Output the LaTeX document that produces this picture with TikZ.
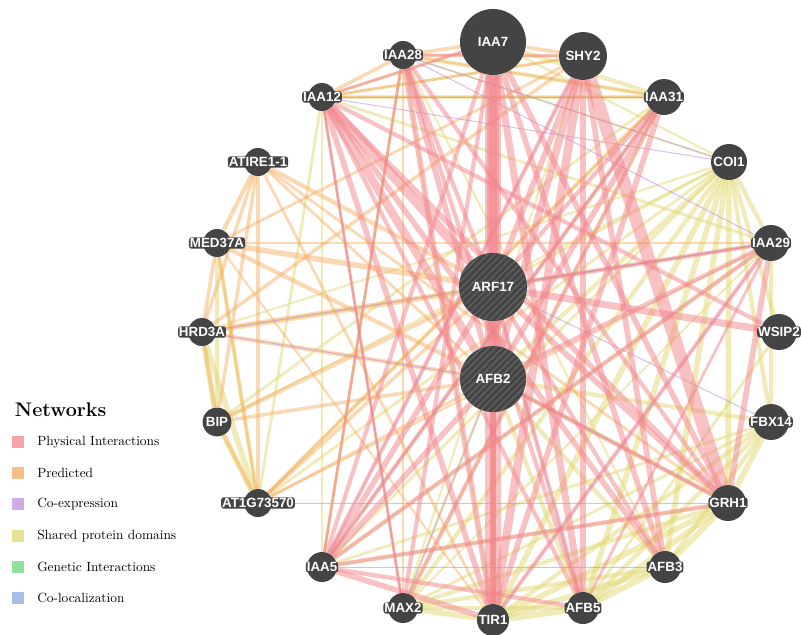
\documentclass[tikz,border=0pt]{standalone}
\usepackage{fontspec}
\newfontfamily\genefont{Liberation Sans}
\usetikzlibrary{backgrounds,patterns.meta,positioning}
\definecolor{genegray}{HTML}{444444}
\definecolor{stripegray}{HTML}{5E5E5E}
\definecolor{physc}{HTML}{F2858B}
\definecolor{predc}{HTML}{F6AA5C}
\definecolor{coexc}{HTML}{BF8FE0}
\definecolor{shdc}{HTML}{E2D872}
\definecolor{genc}{HTML}{6BD97A}
\definecolor{colc}{HTML}{8BA9E4}

\begin{document}
\begin{tikzpicture}[x=0.025cm,y=-0.025cm,
  gene/.style={circle,fill=genegray,inner sep=0pt,minimum size=#1},
  glab/.style={text=white,fill=genegray,rounded corners=2pt,inner sep=0.7pt,
    font=\genefont\bfseries\fontsize{9.5}{11}\selectfont},
  query/.style={gene=#1,postaction={pattern={Lines[angle=45,distance=3.4pt,line width=1.2pt]},pattern color=stripegray}},
  phys/.style={draw=physc,line width=#1,opacity=.5},
  pred/.style={draw=predc,line width=#1,opacity=.45},
  coex/.style={draw=coexc,line width=#1,opacity=.6},
  shd/.style={draw=shdc,line width=#1,opacity=.5},
  legsq/.style={fill=#1!75,minimum size=0.3cm,inner sep=0pt},
  legtext/.style={font=\fontsize{9.5}{11}\selectfont,anchor=west}]
\useasboundingbox (0,0) rectangle (801,634);

% genes on the ring
\node[gene=1.65cm,label={[glab]center:IAA7}] (iaa7) at (493,42) {};
\node[gene=1.2cm,label={[glab]center:SHY2}] (shy2) at (583,56) {};
\node[gene=0.7cm,label={[glab]center:IAA28}] (iaa28) at (403,55) {};
\node[gene=0.7cm,label={[glab]center:IAA12}] (iaa12) at (322,97) {};
\node[gene=0.9cm,label={[glab]center:IAA31}] (iaa31) at (664,97) {};
\node[gene=0.9cm,label={[glab]center:COI1}] (coi1) at (729,162) {};
\node[gene=0.7cm,label={[glab]center:ATIRE1-1}] (atire) at (258,162) {};
\node[gene=0.7cm,label={[glab]center:MED37A}] (med37a) at (217,243) {};
\node[gene=0.9cm,label={[glab]center:IAA29}] (iaa29) at (771,243) {};
\node[gene=0.7cm,label={[glab]center:HRD3A}] (hrd3a) at (202,332) {};
\node[gene=0.9cm,label={[glab]center:WSIP2}] (wsip2) at (779,332) {};
\node[gene=0.72cm,label={[glab]center:BIP}] (bip) at (217,422) {};
\node[gene=0.9cm,label={[glab]center:FBX14}] (fbx14) at (771,422) {};
\node[gene=0.7cm,label={[glab]center:AT1G73570}] (at1g) at (258,503) {};
\node[gene=0.9cm,label={[glab]center:GRH1}] (grh1) at (728,503) {};
\node[gene=0.75cm,label={[glab]center:IAA5}] (iaa5) at (322,567) {};
\node[gene=0.8cm,label={[glab]center:AFB3}] (afb3) at (665,567) {};
\node[gene=0.75cm,label={[glab]center:MAX2}] (max2) at (403,608) {};
\node[gene=0.8cm,label={[glab]center:TIR1}] (tir1) at (493,620) {};
\node[gene=0.8cm,label={[glab]center:AFB5}] (afb5) at (583,608) {};
% query genes
\node[query=1.7cm,label={[glab,fill=none]center:ARF17}] (arf17) at (493,287) {};
\node[query=1.65cm,label={[glab,fill=none]center:AFB2}] (afb2) at (493,379) {};

\begin{pgfonlayer}{background}
% shared protein domains
\foreach \a/\b/\w in {coi1/tir1/4,coi1/afb2/3,coi1/afb3/4,coi1/afb5/4,coi1/grh1/4,
  coi1/fbx14/3,coi1/max2/3,tir1/afb2/3,tir1/afb3/4,tir1/afb5/5,tir1/grh1/4,
  tir1/fbx14/3,tir1/max2/4,afb2/afb3/3,afb2/afb5/3,afb2/grh1/3,afb2/fbx14/3,
  afb2/max2/2,afb3/afb5/4,afb3/grh1/4,afb3/fbx14/3,afb3/max2/3,afb5/grh1/4,
  afb5/fbx14/3,afb5/max2/3,grh1/fbx14/4,grh1/max2/3,fbx14/max2/2,
  iaa29/coi1/3,coi1/wsip2/3,iaa29/fbx14/3,hrd3a/bip/4,hrd3a/at1g/4,bip/at1g/4,
  med37a/bip/3,med37a/at1g/3,iaa31/iaa12/3,iaa31/iaa28/3,iaa31/bip/2,
  iaa31/iaa5/2,iaa28/iaa5/2,iaa12/iaa5/2,iaa12/at1g/2,iaa7/iaa31/3,
  shy2/iaa12/2,iaa29/iaa12/2,iaa29/hrd3a/2,coi1/at1g/2,iaa31/max2/2,
  iaa28/afb3/1.5,coi1/iaa5/2,iaa31/at1g/2,coi1/iaa28/1.5,fbx14/iaa5/2,
  grh1/iaa5/2,coi1/iaa7/1.5,iaa29/max2/1.5,wsip2/afb5/2,iaa29/iaa5/2,
  shy2/max2/1.5,iaa28/tir1/1.5,coi1/arf17/2,coi1/hrd3a/1.5,coi1/bip/1.5}
  \draw[shd=\w pt] (\a) -- (\b);
% predicted
\foreach \a/\b/\w in {atire/med37a/3,atire/hrd3a/2.5,atire/bip/2.5,atire/at1g/3,
  med37a/hrd3a/2.5,hrd3a/bip/2.5,bip/at1g/2.5,med37a/at1g/2,atire/arf17/3,
  atire/grh1/2,med37a/arf17/4,med37a/afb2/3,med37a/shy2/2,hrd3a/arf17/4,
  hrd3a/afb2/3,hrd3a/shy2/2.5,bip/arf17/3,bip/afb2/2.5,at1g/arf17/2.5,at1g/iaa31/2.5,
  at1g/afb2/2,iaa12/iaa28/2.5,iaa28/iaa7/2.5,iaa12/iaa7/2,iaa12/shy2/2,
  iaa12/max2/2,atire/tir1/2,med37a/tir1/1.5,iaa28/max2/2,iaa7/shy2/2.5,
  iaa28/shy2/2,iaa12/iaa31/1.5,med37a/iaa29/1.5,at1g/iaa29/1.5,iaa28/iaa31/1.5,
  iaa5/iaa28/1.5,atire/afb2/2}
  \draw[pred=\w pt] (\a) -- (\b);
% co-expression
\foreach \a/\b in {iaa12/iaa31,iaa28/coi1,hrd3a/afb2,at1g/grh1,max2/iaa12,
  iaa29/arf17,coi1/iaa12,iaa5/iaa31,grh1/afb2,tir1/iaa29,afb5/arf17,iaa5/afb3,
  fbx14/arf17,hrd3a/iaa29,iaa5/shy2,max2/afb2,iaa28/iaa29}
  \draw[coex=0.7pt] (\a) -- (\b);
% physical interactions
\foreach \a/\b/\w in {iaa7/tir1/11,iaa7/afb2/8,iaa7/arf17/6,iaa7/afb5/5,iaa7/afb3/4,
  iaa7/grh1/4,iaa7/iaa5/3,iaa7/max2/3,shy2/tir1/6,shy2/afb2/5,shy2/arf17/4,
  shy2/afb3/4,shy2/grh1/9,shy2/afb5/4,shy2/iaa5/3,iaa12/arf17/7,iaa12/afb2/6,
  iaa12/tir1/4,iaa12/afb3/4,iaa12/grh1/4,iaa12/afb5/3,iaa28/tir1/4,iaa28/afb2/4,
  iaa28/afb5/3,iaa28/arf17/3,iaa28/grh1/3,iaa31/tir1/4,iaa31/afb2/4,
  iaa31/arf17/3,iaa31/iaa5/3,iaa31/max2/3,iaa29/iaa5/3,iaa29/grh1/4,
  iaa29/tir1/3,iaa29/arf17/3,iaa29/afb2/3,iaa5/arf17/4,iaa5/afb2/4,iaa5/tir1/4,
  iaa5/afb5/3,iaa5/grh1/3,wsip2/arf17/5,wsip2/iaa12/3,arf17/grh1/4,
  arf17/afb3/3,arf17/tir1/4,afb2/tir1/4,iaa12/max2/2,iaa28/iaa5/2,
  arf17/afb5/3,afb2/grh1/3,iaa7/iaa12/2,shy2/iaa28/2,iaa29/afb5/2}
  \draw[phys=\w pt] (\a) -- (\b);
\end{pgfonlayer}

% legend
\node[anchor=base west,font=\bfseries\fontsize{14}{16}\selectfont] (nettitle) at (10,416) {Networks};
\foreach \c/\t [count=\i] in {physc/Physical Interactions,predc/Predicted,
  coexc/Co-expression,shdc/Shared protein domains,genc/Genetic Interactions,
  colc/Co-localization}
  \node[legsq=\c] (sq\i) at (18,{442+31.2*(\i-1)}) {}
    node[legtext,right=0.2cm of sq\i] (lt\i) {\t};
\end{tikzpicture}
\end{document}
